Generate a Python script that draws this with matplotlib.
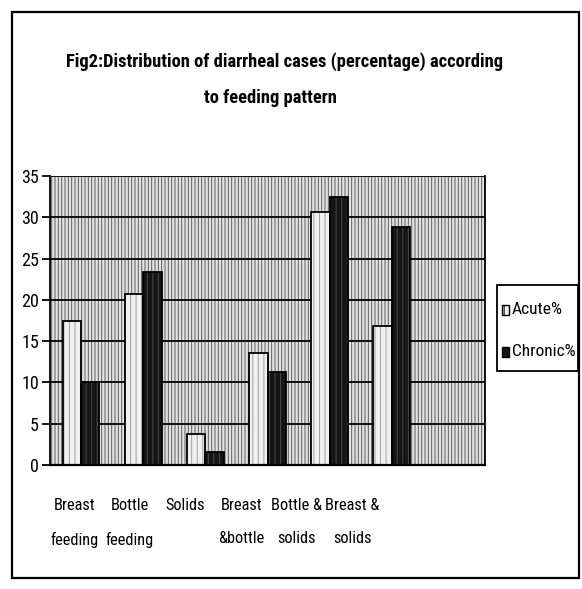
import matplotlib
matplotlib.use("Agg")
import matplotlib.pyplot as plt
from matplotlib.patches import Rectangle
import numpy as np

categories = ["Breast\nfeeding", "Bottle\nfeeding", "Solids", "Breast\n&bottle", "Bottle &\nsolids", "Breast &\nsolids"]
acute = [17.4, 20.7, 3.7, 13.6, 30.6, 16.8]
chronic = [10.0, 23.4, 1.6, 11.3, 32.4, 28.8]
series_names = ["Acute%", "Chronic%"]
yticks = [0, 5, 10, 15, 20, 25, 30, 35]
title_lines = ["Fig2:Distribution of diarrheal cases (percentage) according", "to feeding pattern"]

FAM = ["Roboto Condensed", "Pragati Narrow", "DejaVu Sans"]
plt.rcParams['font.family'] = FAM
plt.rcParams['hatch.linewidth'] = 0.7

W, H = 582, 589
fig = plt.figure(figsize=(W / 100, H / 100), dpi=100)
ax = fig.add_axes([50 / W, 1 - 465 / H, (485 - 50) / W, (465 - 176) / H])

# hatched background of the plot area
ax.add_patch(Rectangle((0, 0), 1, 1, transform=ax.transAxes, facecolor="#e2e2e2",
                       edgecolor="#5e5e5e", hatch="|||||", linewidth=0, zorder=0))

x = np.arange(len(categories))
w = 0.295
for yv in yticks[1:]:
    ax.axhline(yv, color="black", linewidth=1.3, zorder=1)

ax.bar(x - w / 2, acute, w, color="#f0f0f0", edgecolor="#a0a0a0", hatch="|||", linewidth=0, zorder=2)
ax.bar(x - w / 2, acute, w, color="none", edgecolor="black", linewidth=1.3, zorder=3)
ax.bar(x + w / 2, chronic, w, color="#151515", edgecolor="#4a4a4a", hatch="|||", linewidth=0, zorder=2)
ax.bar(x + w / 2, chronic, w, color="none", edgecolor="black", linewidth=1.3, zorder=3)

ax.set_xlim(-0.5, len(categories) + 0.5)
ax.set_ylim(0, 35)
ax.set_yticks(yticks)
ax.set_yticklabels([str(v) for v in yticks], fontsize=13)
label_pos = np.arange(len(categories)) * 0.895 - 0.11
ax.set_xticks(label_pos)
ax.set_xticklabels(categories, fontsize=11.8, linespacing=2.45, va="top")
ax.tick_params(axis="x", length=0, pad=24)
ax.tick_params(axis="y", length=6, width=1.3, pad=2)
ax.spines["top"].set_visible(False)
ax.spines["left"].set_linewidth(1.3)
ax.spines["bottom"].set_linewidth(1.6)
ax.spines["right"].set_linewidth(1.3)

# legend (drawn in figure pixels)
def fx(px):
    return px / W
def fy(py):
    return 1 - py / H

fig.add_artist(Rectangle((fx(497), fy(371)), (578 - 497) / W, (371 - 285) / H,
                         transform=fig.transFigure, fill=False, edgecolor="black", linewidth=1.3))
fig.add_artist(Rectangle((fx(502), fy(315)), 7 / W, 10 / H, transform=fig.transFigure,
                         facecolor="#f0f0f0", edgecolor="black", linewidth=1.0, hatch="||"))
fig.add_artist(Rectangle((fx(502), fy(357)), 7 / W, 10 / H, transform=fig.transFigure,
                         facecolor="#151515", edgecolor="black", linewidth=1.0))
fig.text(fx(512), fy(310), series_names[0], fontsize=12.5, va="center", ha="left")
fig.text(fx(512), fy(352), series_names[1], fontsize=12.5, va="center", ha="left")

fig.text(fx(285), fy(62), title_lines[0], ha="center", va="center", fontsize=13.3, fontweight="bold")
fig.text(fx(270), fy(98), title_lines[1], ha="center", va="center", fontsize=13.3, fontweight="bold")

# outer frame
fig.add_artist(Rectangle((fx(12), fy(578)), (579 - 12) / W, (578 - 12) / H,
                         transform=fig.transFigure, fill=False, edgecolor="black", linewidth=1.6))

fig.savefig("out.png", dpi=100)
